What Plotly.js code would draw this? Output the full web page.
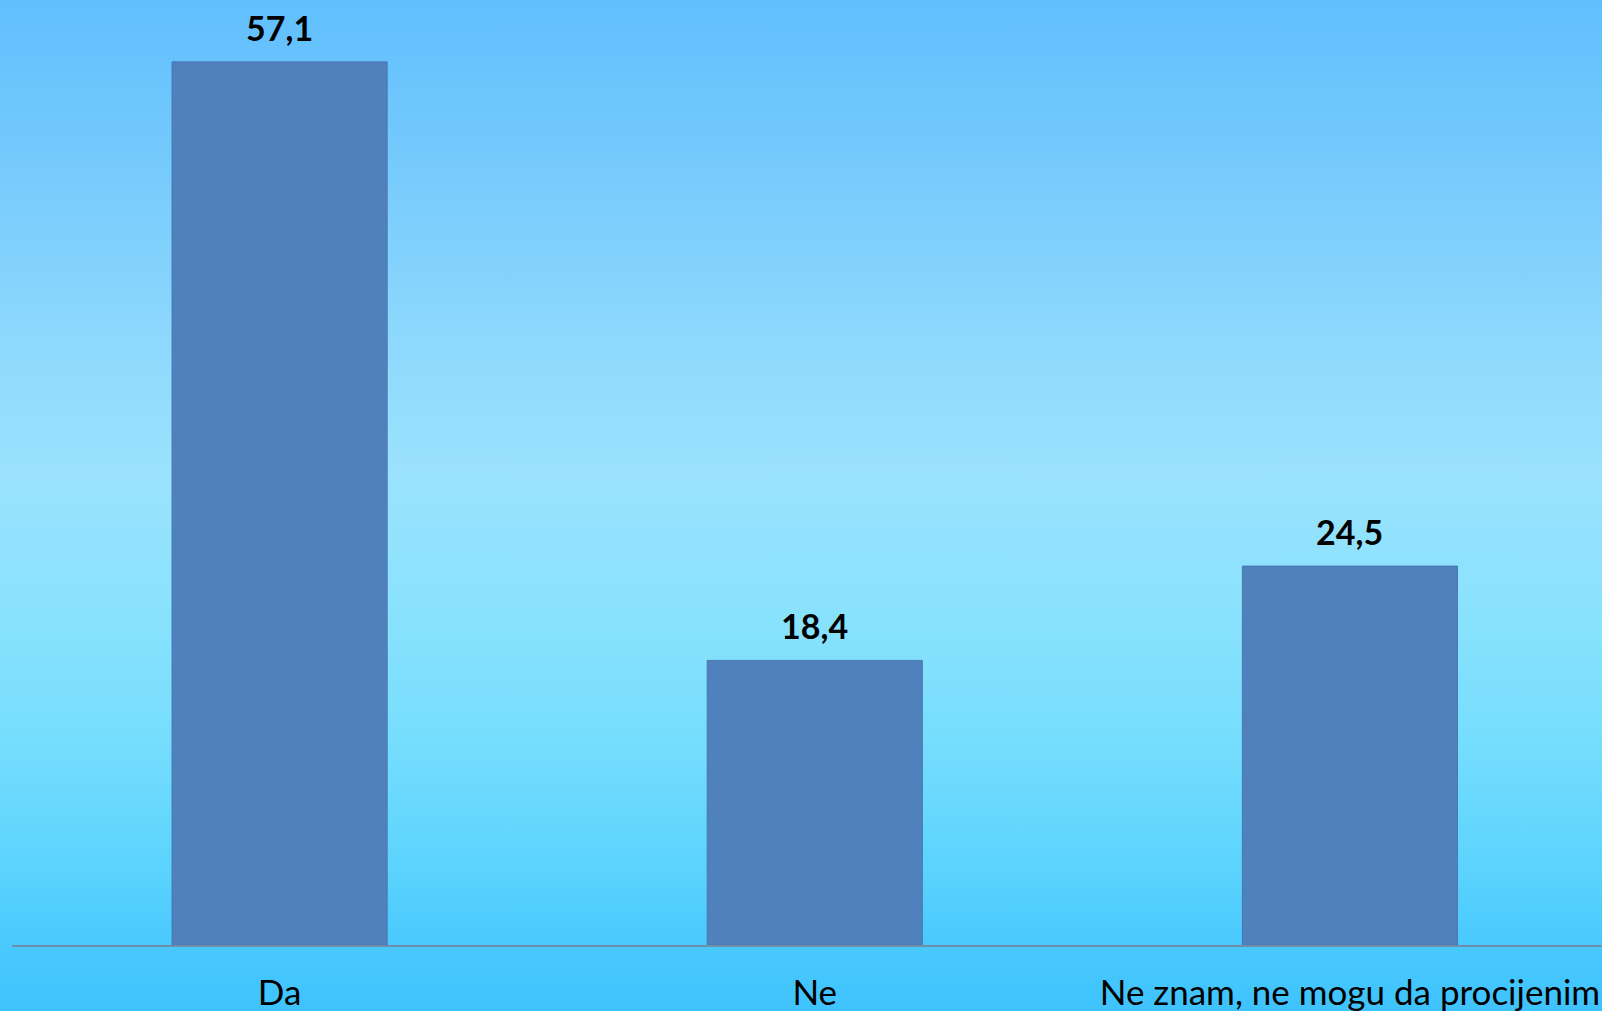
<!DOCTYPE html>
<html>
<head>
<meta charset="utf-8">
<script src="https://cdn.plot.ly/plotly-3.0.1.min.js"></script>
<style>
html,body{margin:0;padding:0;width:1602px;height:1011px;overflow:hidden;}
body{background:linear-gradient(to bottom,#60bffd 0%,#74c9fc 15%,#8fd9fd 35%,#9ae2fd 47%,#8ae2fd 60%,#78defd 72%,#5bd3fd 86%,#48c8fd 94%,#3fc3fd 100%);}
#chart{width:1602px;height:1011px;}
</style>
</head>
<body>
<div id="chart"></div>
<script>
var categories = ["Da", "Ne", "Ne znam, ne mogu da procijenim"];
var values = [57.1, 18.4, 24.5];
var valueLabels = ["57,1", "18,4", "24,5"];

var font = "Lato, 'Open Sans', sans-serif";

var trace = {
  type: "bar",
  x: categories,
  y: values,
  marker: {color: "#4f81bd", line: {color: "#4a78b0", width: 1}},
  hoverinfo: "none"
};

var annotations = categories.map(function(c, i){
  return {x: c, y: values[i], text: valueLabels[i], showarrow: false,
    xanchor: "center", yanchor: "bottom", yshift: 12,
    font: {family: font, size: 34, color: "#000000", weight: "bold"}};
});

var layout = {
  width: 1602, height: 1011,
  margin: {l: 12, r: 0, t: 0, b: 66},
  paper_bgcolor: "rgba(0,0,0,0)",
  plot_bgcolor: "rgba(0,0,0,0)",
  bargap: 0.598,
  showlegend: false,
  xaxis: {type: "category", range: [-0.5, 2.471], showline: true, linecolor: "#6f8fa8", linewidth: 2,
    ticks: "", showgrid: false, zeroline: false, automargin: false, ticklabelstandoff: 16,
    tickfont: {family: font, size: 35, color: "#000000"}},
  yaxis: {range: [0, 61.1], visible: false, showgrid: false, zeroline: false},
  annotations: annotations
};

Plotly.newPlot("chart", [trace], layout, {displayModeBar: false, staticPlot: true});
</script>
</body>
</html>
